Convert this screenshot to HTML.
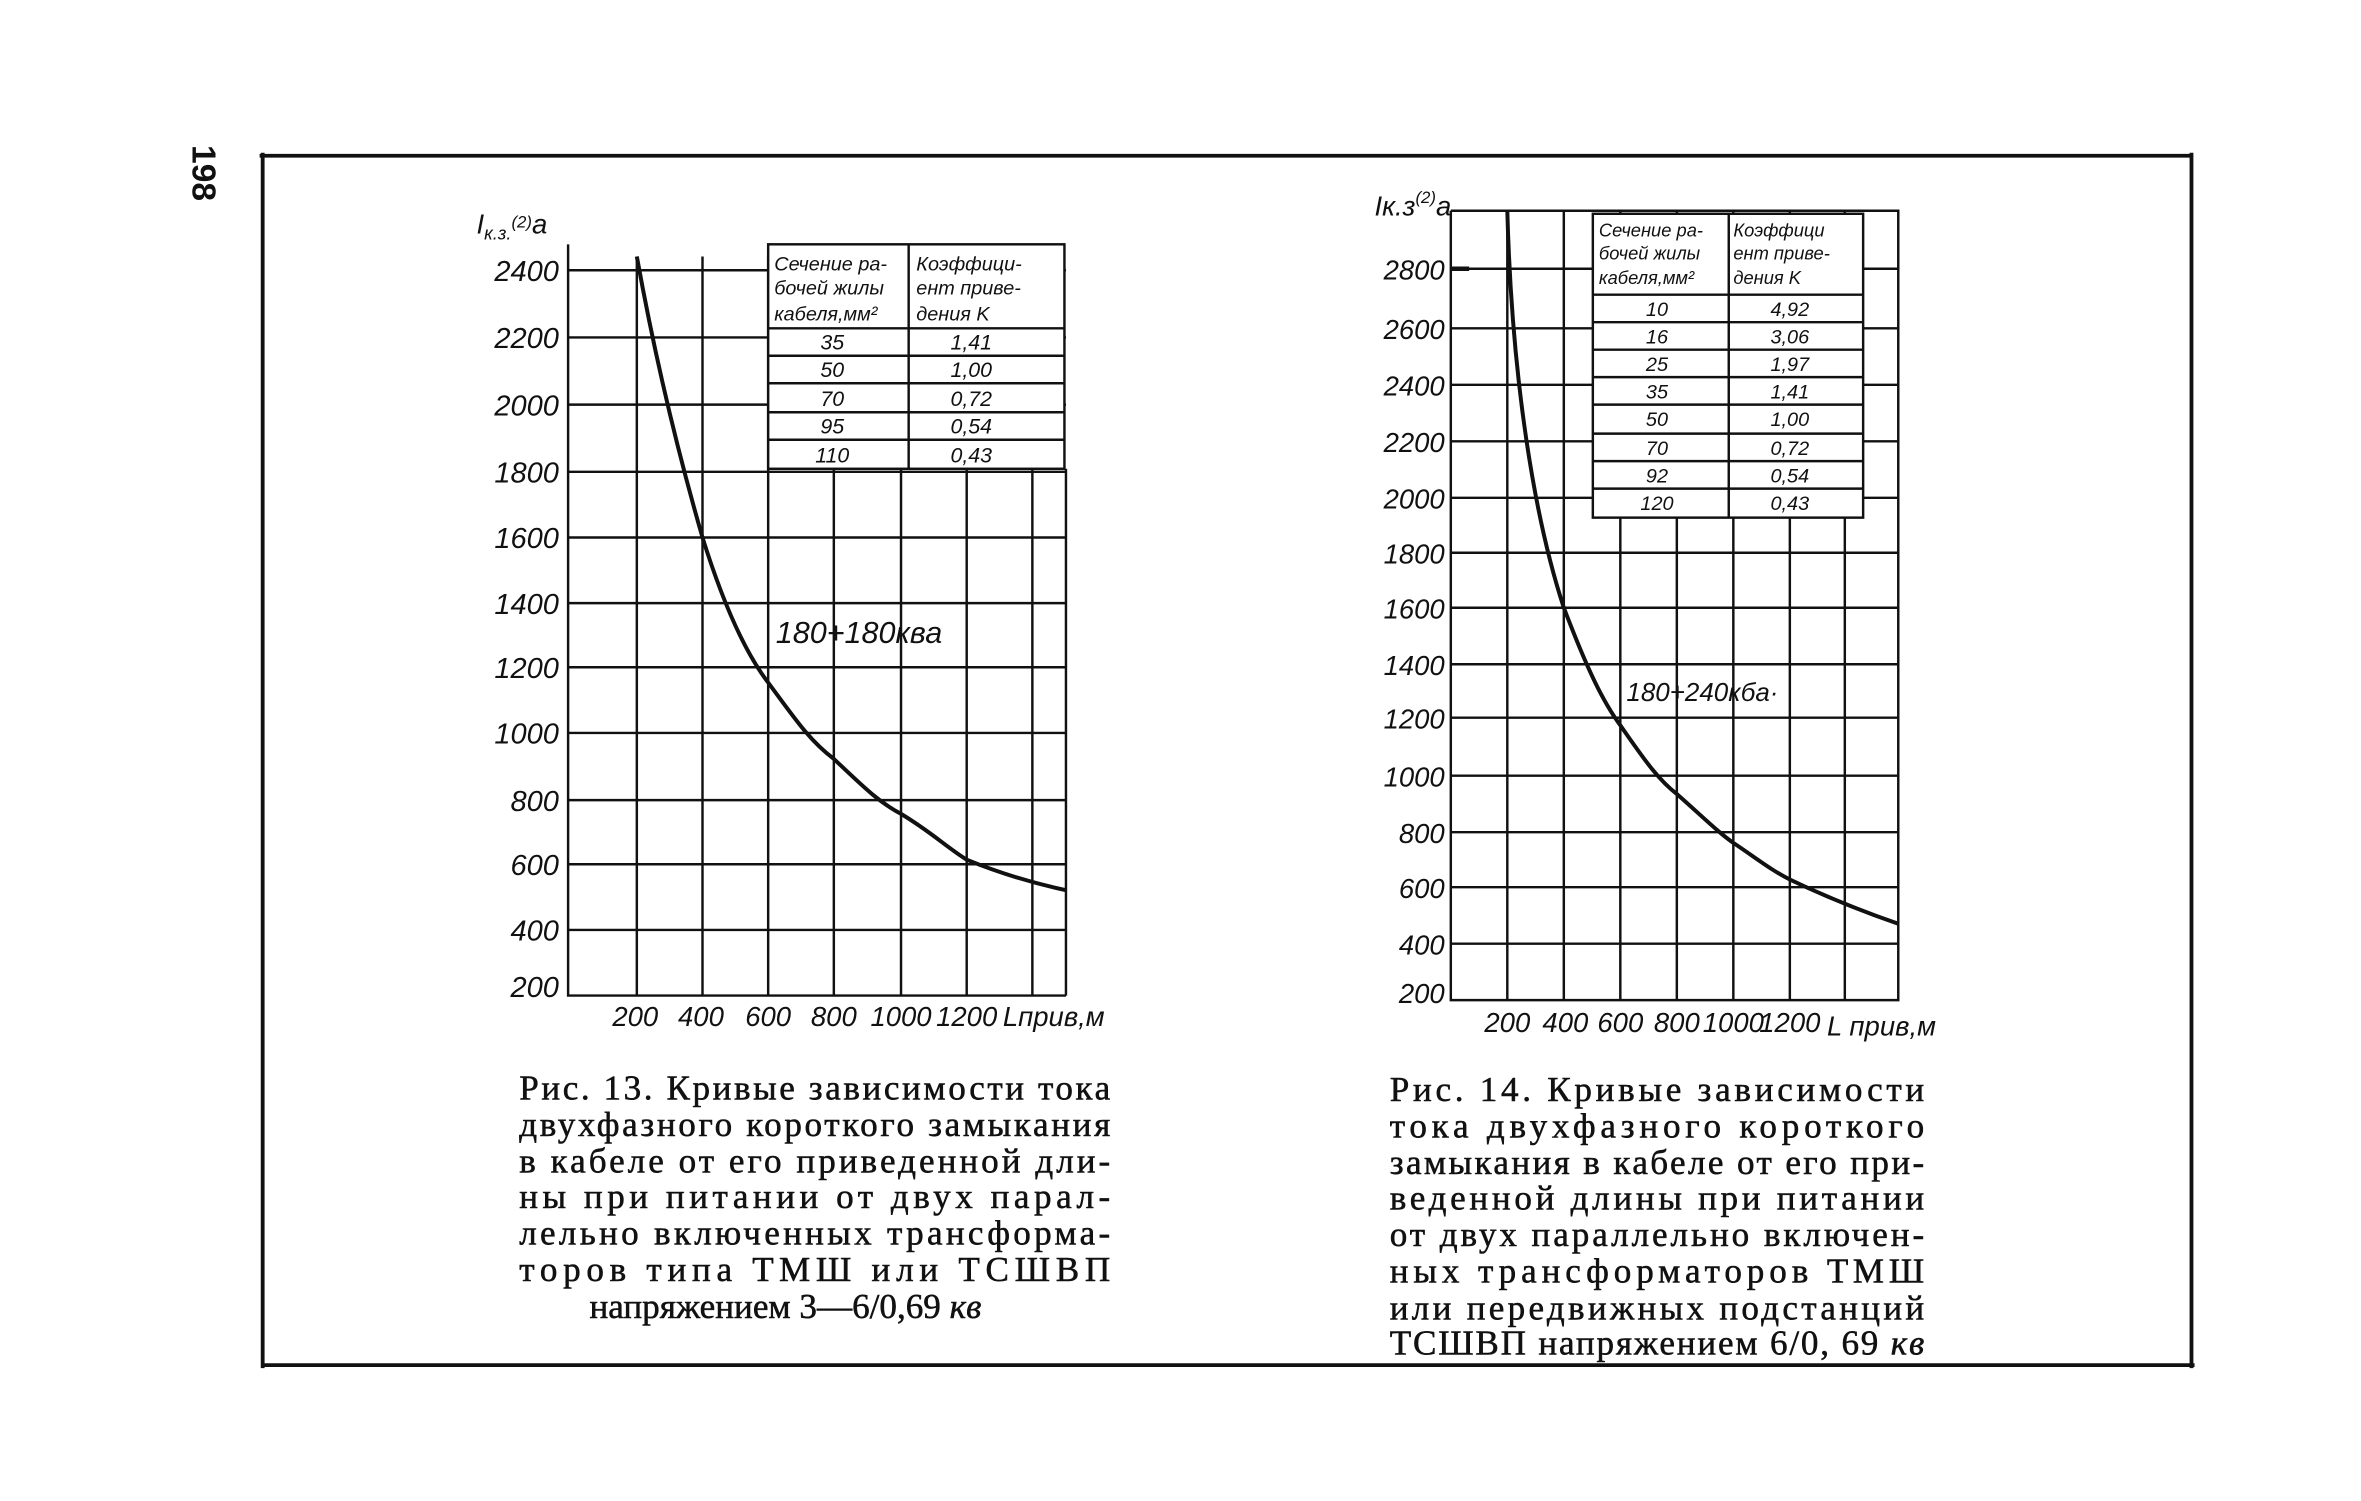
<!DOCTYPE html>
<html><head><meta charset="utf-8"><style>html,body{margin:0;padding:0;background:#fff}svg{display:block}</style></head>
<body>
<svg width="2361" height="1501" viewBox="0 0 1546 983" preserveAspectRatio="none" xmlns="http://www.w3.org/2000/svg">
<g stroke="#111" fill="none">
<path d="M172 100V896M170 102H1436M1435 100V896M172 894H1437" stroke-width="2.5"/>
</g>
<text x="0" y="0" transform="translate(126,95) rotate(90)" font-family="Liberation Sans,sans-serif" font-weight="bold" font-size="22" fill="#111">198</text>

<!-- Chart 1 -->
<g stroke="#111" stroke-width="1.6" fill="none">
<path d="M372 160V652H698"/>
<path d="M417 168V652M460 168V652M503 168V652M546 168V652M590 168V652M633 168V652M676 168V652M698 307V652"/>
<path d="M372 177H698M372 221H698M372 265H698M372 309H698M372 352H698M372 395H698M372 437H698M372 480H698M372 524H698M372 566H698M372 609H698"/>
<rect x="503" y="160" width="194" height="147" fill="#fff"/>
<path d="M595 160V307M503 215H697M503 233H697M503 251H697M503 270H697M503 288H697"/>
<path d="M417 168C430 240 445 300 460 352C475 400 490 430 503 447C520 470 530 485 546 497C565 515 575 525 590 533C610 545 620 555 633 563C655 572 675 578 698 583" stroke-width="2.6"/>
</g>
<g font-family="Liberation Sans,sans-serif" font-style="italic" font-size="19" fill="#111" text-anchor="end">
<text x="366" y="184">2400</text><text x="366" y="228">2200</text><text x="366" y="272">2000</text><text x="366" y="316">1800</text><text x="366" y="359">1600</text><text x="366" y="402">1400</text><text x="366" y="444">1200</text><text x="366" y="487">1000</text><text x="366" y="531">800</text><text x="366" y="573">600</text><text x="366" y="616">400</text><text x="366" y="653">200</text>
</g>
<text x="312" y="153" font-family="Liberation Sans,sans-serif" font-style="italic" font-size="18" fill="#111">I<tspan font-size="12" dy="4">к.з.</tspan><tspan font-size="11" dy="-8">(2)</tspan><tspan dy="4">а</tspan></text>
<g font-family="Liberation Sans,sans-serif" font-style="italic" font-size="18" fill="#111" text-anchor="middle">
<text x="416" y="672">200</text><text x="459" y="672">400</text><text x="503" y="672">600</text><text x="546" y="672">800</text><text x="590" y="672">1000</text><text x="633" y="672">1200</text><text x="690" y="672">Lприв,м</text>
</g>
<text x="508" y="421" font-family="Liberation Sans,sans-serif" font-style="italic" font-size="20" fill="#111">180+180ква</text>
<g font-family="Liberation Sans,sans-serif" font-style="italic" font-size="13" fill="#111">
<text x="507" y="177">Сечение ра-</text><text x="507" y="193">бочей жилы</text><text x="507" y="210">кабеля,мм²</text>
<text x="600" y="177">Коэффици-</text><text x="600" y="193">ент приве-</text><text x="600" y="210">дения K</text>
</g>
<g font-family="Liberation Sans,sans-serif" font-style="italic" font-size="14" fill="#111" text-anchor="middle">
<text x="545" y="229">35</text><text x="636" y="229">1,41</text>
<text x="545" y="247">50</text><text x="636" y="247">1,00</text>
<text x="545" y="266">70</text><text x="636" y="266">0,72</text>
<text x="545" y="284">95</text><text x="636" y="284">0,54</text>
<text x="545" y="303">110</text><text x="636" y="303">0,43</text>
</g>

<!-- Chart 2 -->
<g stroke="#111" stroke-width="1.6" fill="none">
<path d="M950 138V655H1243V138H950"/>
<path d="M987 138V655M1024 138V655M1061 138V655M1098 138V655M1135 138V655M1172 138V655M1208 138V655"/>
<path d="M950 176H1243M950 215H1243M950 252H1243M950 289H1243M950 326H1243M950 362H1243M950 398H1243M950 435H1243M950 470H1243M950 508H1243M950 545H1243M950 581H1243M950 618H1243"/>
<rect x="1043" y="140" width="177" height="199" fill="#fff"/>
<path d="M1132 140V339M1043 193H1220M1043 211H1220M1043 229H1220M1043 247H1220M1043 265H1220M1043 284H1220M1043 302H1220M1043 320H1220"/>
<path d="M950 176H962" stroke-width="3"/>
<path d="M987 138C990 250 1005 340 1024 398C1040 440 1050 460 1061 475C1075 495 1085 510 1098 520C1115 535 1125 545 1135 552C1150 562 1160 570 1172 576C1195 587 1220 597 1243 605" stroke-width="2.6"/>
</g>
<g font-family="Liberation Sans,sans-serif" font-style="italic" font-size="18" fill="#111" text-anchor="end">
<text x="946" y="183">2800</text><text x="946" y="222">2600</text><text x="946" y="259">2400</text><text x="946" y="296">2200</text><text x="946" y="333">2000</text><text x="946" y="369">1800</text><text x="946" y="405">1600</text><text x="946" y="442">1400</text><text x="946" y="477">1200</text><text x="946" y="515">1000</text><text x="946" y="552">800</text><text x="946" y="588">600</text><text x="946" y="625">400</text><text x="946" y="657">200</text>
</g>
<text x="900" y="141" font-family="Liberation Sans,sans-serif" font-style="italic" font-size="18" fill="#111">Iк.з<tspan font-size="11" dy="-8">(2)</tspan><tspan dy="8">а</tspan></text>
<g font-family="Liberation Sans,sans-serif" font-style="italic" font-size="18" fill="#111" text-anchor="middle">
<text x="987" y="676">200</text><text x="1025" y="676">400</text><text x="1061" y="676">600</text><text x="1098" y="676">800</text><text x="1135" y="676">1000</text><text x="1172" y="676">1200</text><text x="1232" y="678">L прив,м</text>
</g>
<text x="1065" y="459" font-family="Liberation Sans,sans-serif" font-style="italic" font-size="17" fill="#111">180+240кба·</text>
<g font-family="Liberation Sans,sans-serif" font-style="italic" font-size="12" fill="#111">
<text x="1047" y="155">Сечение ра-</text><text x="1047" y="170">бочей жилы</text><text x="1047" y="186">кабеля,мм²</text>
<text x="1135" y="155">Коэффици</text><text x="1135" y="170">ент приве-</text><text x="1135" y="186">дения K</text>
</g>
<g font-family="Liberation Sans,sans-serif" font-style="italic" font-size="13" fill="#111" text-anchor="middle">
<text x="1085" y="207">10</text><text x="1172" y="207">4,92</text>
<text x="1085" y="225">16</text><text x="1172" y="225">3,06</text>
<text x="1085" y="243">25</text><text x="1172" y="243">1,97</text>
<text x="1085" y="261">35</text><text x="1172" y="261">1,41</text>
<text x="1085" y="279">50</text><text x="1172" y="279">1,00</text>
<text x="1085" y="298">70</text><text x="1172" y="298">0,72</text>
<text x="1085" y="316">92</text><text x="1172" y="316">0,54</text>
<text x="1085" y="334">120</text><text x="1172" y="334">0,43</text>
</g>

<!-- Captions -->
<g font-family="Liberation Serif,serif" font-size="23" fill="#111" stroke="#111" stroke-width="0.35">
<text x="340" y="720" textLength="387" lengthAdjust="spacing">Рис. 13. Кривые зависимости тока</text>
<text x="340" y="744" textLength="387" lengthAdjust="spacing">двухфазного короткого замыкания</text>
<text x="340" y="768" textLength="387" lengthAdjust="spacing">в кабеле от его приведенной дли-</text>
<text x="340" y="791" textLength="387" lengthAdjust="spacing">ны при питании от двух парал-</text>
<text x="340" y="815" textLength="387" lengthAdjust="spacing">лельно включенных трансформа-</text>
<text x="340" y="839" textLength="387" lengthAdjust="spacing">торов типа ТМШ или ТСШВП</text>
<text x="386" y="863">напряжением 3—6/0,69 <tspan font-style="italic">кв</tspan></text>
<text x="910" y="721" textLength="350" lengthAdjust="spacing">Рис. 14. Кривые зависимости</text>
<text x="910" y="745" textLength="350" lengthAdjust="spacing">тока двухфазного короткого</text>
<text x="910" y="769" textLength="350" lengthAdjust="spacing">замыкания в кабеле от его при-</text>
<text x="910" y="792" textLength="350" lengthAdjust="spacing">веденной длины при питании</text>
<text x="910" y="816" textLength="350" lengthAdjust="spacing">от двух параллельно включен-</text>
<text x="910" y="840" textLength="350" lengthAdjust="spacing">ных трансформаторов ТМШ</text>
<text x="910" y="864" textLength="350" lengthAdjust="spacing">или передвижных подстанций</text>
<text x="910" y="887" textLength="350" lengthAdjust="spacing">ТСШВП напряжением 6/0, 69 <tspan font-style="italic">кв</tspan></text>
</g>
</svg>
</body></html>
